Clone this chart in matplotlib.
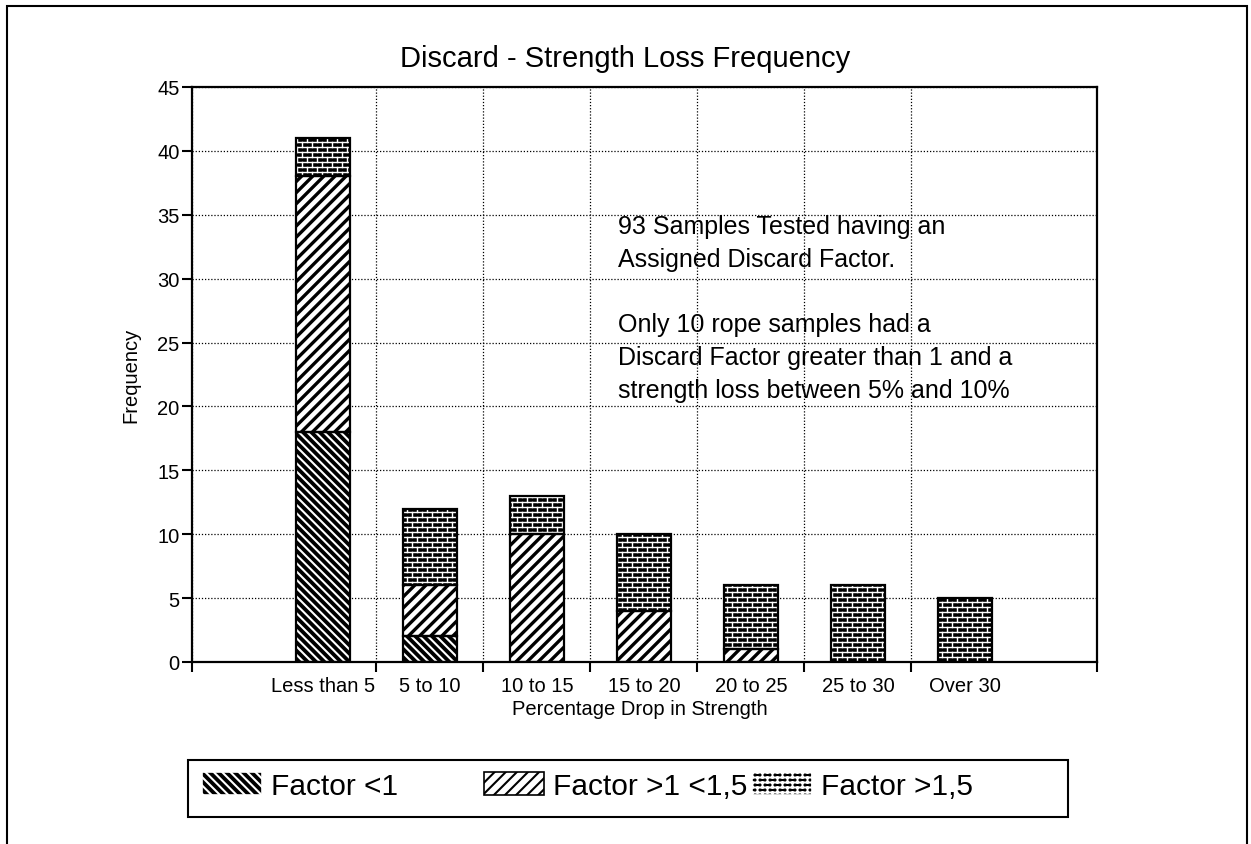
import warnings

import numpy as np
import matplotlib
matplotlib.use('Agg')
import matplotlib.pyplot as plt
from matplotlib import hatch as mhatch
from matplotlib.path import Path
from matplotlib.patches import Patch, Rectangle

warnings.filterwarnings('ignore', message='hatch must consist')

categories = ['Less than 5', '5 to 10', '10 to 15', '15 to 20',
              '20 to 25', '25 to 30', 'Over 30']
factor_below_1 = [18, 2, 0, 0, 0, 0, 0]
factor_1_to_15 = [20, 4, 10, 4, 1, 0, 0]
factor_above_15 = [3, 6, 3, 6, 5, 6, 5]
series_labels = ['Factor <1', 'Factor >1 <1,5', 'Factor >1,5']
y_ticks = list(range(0, 46, 5))
note = ('93 Samples Tested having an\nAssigned Discard Factor.\n\n'
        'Only 10 rope samples had a\nDiscard Factor greater than 1 and a\n'
        'strength loss between 5% and 10%')


class BrickHatch(mhatch.HatchPatternBase):
    # running-bond brickwork, picked with 'b' in a hatch string
    rows, cols = 20, 10

    def __init__(self, hatch, density):
        n = hatch.count('b')
        self.num_vertices = (2 * self.rows + 2 * (self.rows + 1) * self.cols) if n else 0

    def set_vertices_and_codes(self, vertices, codes):
        R, C = self.rows, self.cols
        segs = []
        for r in range(R):
            y = (r + 0.5) / R
            segs.append(((0.0, y), (1.0, y)))
        for r in range(R):
            y0, y1 = (r + 0.5) / R, (r + 1.5) / R
            shift = 0.25 + 0.5 * (r % 2)
            for c in range(C):
                xx = (c + shift) / C
                if r < R - 1:
                    segs.append(((xx, y0), (xx, y1)))
                else:
                    # course that wraps over the tile edge
                    segs.append(((xx, y0), (xx, 1.0)))
                    segs.append(((xx, 0.0), (xx, y1 - 1.0)))
        segs = np.array(segs)
        vertices[0::2] = segs[:, 0]
        vertices[1::2] = segs[:, 1]
        codes[0::2] = Path.MOVETO
        codes[1::2] = Path.LINETO


mhatch._hatch_types.append(BrickHatch)

plt.rcParams['font.family'] = ['Liberation Sans', 'DejaVu Sans']
plt.rcParams['hatch.linewidth'] = 1.5

fig = plt.figure(figsize=(12.51, 8.45), dpi=100)
ax = fig.add_axes([0.1535, 0.2154, 0.7234, 0.6805])

x = np.arange(len(categories))
# face colour, hatch colour, hatch pattern, hatch line width
styles = [('black', 'white', '\\\\\\\\', 1.5),
          ('white', 'black', '///', 2.4),
          ('black', 'white', 'b', 1.0)]
bottom = np.zeros(len(x))
handles = []
for vals, (face, ink, hatch, hlw), label in zip(
        [factor_below_1, factor_1_to_15, factor_above_15], styles, series_labels):
    vals = np.array(vals, dtype=float)
    keep = vals > 0
    with plt.rc_context({'hatch.linewidth': hlw}):
        bars = ax.bar(x[keep], vals[keep], 0.5, bottom=bottom[keep], color=face,
                      edgecolor=ink, hatch=hatch, linewidth=0, zorder=2)
        h = Patch(facecolor=face, edgecolor=ink, hatch=hatch,
                  linewidth=1.2, label=label)
    for p in list(bars) + [h]:
        if hasattr(p, 'set_hatch_linewidth'):
            p.set_hatch_linewidth(hlw)
    ax.bar(x[keep], vals[keep], 0.5, bottom=bottom[keep], fill=False,
           edgecolor='black', linewidth=1.6, zorder=3)
    bottom += vals
    handles.append(h)

xmin, xmax = -1.224, 7.234
ax.set_xlim(xmin, xmax)
ax.set_ylim(0, 45)
ax.set_yticks(y_ticks)
ax.set_xticks(np.r_[xmin, x[:-1] + 0.5, xmax])
ax.set_xticklabels([])
ax.set_xticks(x, categories, minor=True)
ax.tick_params(axis='x', which='major', direction='out', length=7, width=1.5)
ax.tick_params(axis='x', which='minor', length=0, pad=10, labelsize=14.5)
ax.tick_params(axis='y', direction='out', length=7, width=1.5, pad=2,
               labelsize=14.5)
for s in ax.spines.values():
    s.set_linewidth(1.6)

ax.set_axisbelow(True)
ax.grid(True, which='major', color='black', linestyle=(0, (1, 1.5)),
        linewidth=0.9)

ax.set_xlabel('Percentage Drop in Strength', fontsize=14.5)
ax.xaxis.set_label_coords(0.495, -0.064)
ax.set_ylabel('Frequency', fontsize=14.5)
ax.yaxis.set_label_coords(-0.0575, 0.5)

ax.text(0.4707, 0.779, note, transform=ax.transAxes, ha='left', va='top',
        fontsize=18, linespacing=1.46)

fig.text(0.5, 0.921, 'Discard - Strength Loss Frequency', ha='center',
         va='baseline', fontsize=21)

# legend row, one entry per slot inside a shared frame
slots = [202 / 1251, 484 / 1251, 752 / 1251]
for h, sx in zip(handles, slots):
    fig.legend(handles=[h], loc='center left', bbox_to_anchor=(sx, 0.069),
               frameon=False, borderpad=0, borderaxespad=0, fontsize=21.5,
               handlelength=2.0, handleheight=0.85, handletextpad=0.3)
fig.add_artist(Rectangle((188 / 1251, 27 / 845), 880 / 1251, 57 / 845,
                         transform=fig.transFigure, fill=False,
                         edgecolor='black', linewidth=1.5))

# page border
fig.add_artist(Rectangle((7 / 1251, -0.05), 1240 / 1251, 1.05 - 7 / 845,
                         transform=fig.transFigure, fill=False,
                         edgecolor='black', linewidth=1.5, clip_on=False))

fig.savefig('out.png', dpi=100)
